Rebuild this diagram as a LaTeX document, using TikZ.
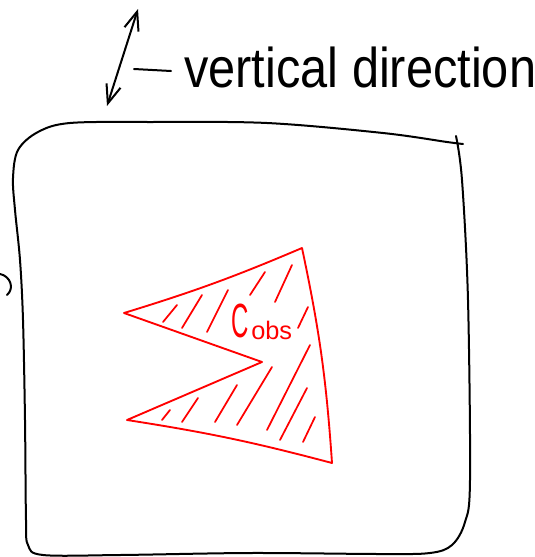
\documentclass[tikz,border=0pt]{standalone}
\usepackage{fontspec}
\setmainfont{Liberation Sans}
\usetikzlibrary{arrows.meta}
\tikzset{
  ink/.style={line width=1.5pt, line cap=round, line join=round, black},
  redink/.style={line width=1.4pt, line cap=round, line join=round, red},
  hatch/.style={line width=1.3pt, line cap=round, red},
}
\begin{document}
\begin{tikzpicture}[x=0.75pt, y=-0.75pt]
\useasboundingbox (0,0) rectangle (535,557);
% arrow
\coordinate (abot) at (107,106);
\coordinate (atop) at (138,9);
\draw[ink, {Straight Barb[length=14pt,width=11pt]}-{Straight Barb[length=14pt,width=11pt]}] (abot) -- (atop);
% dash and label
\coordinate (d1) at (134,69);
\coordinate (d2) at (171,71);
\draw[ink] (d1) -- (d2);
\node[anchor=base west, inner sep=0pt, font=\fontsize{42}{42}\selectfont] (lbl) at (184,87) {\scalebox{0.87}[1]{vertical direction}};
% box
\draw[ink] plot[smooth, tension=0.55] coordinates {
 (463,144) (447,142) (383,133) (267,123) (150,122) (70,123) (38,132) (18,150) (13,178)
 (15,210) (20,260) (23,320) (25,420) (26,520) (28,545) (43,555) (120,555) (250,553)
 (380,554) (430,553) (452,545) (465,522) (470,480) (468,300) (462,180) (456,136)};
% small arc at left
\draw[ink] (0,274) .. controls (10,276) and (15,288) .. (7,295);
% red region
\coordinate (T) at (302,248);
\coordinate (L1) at (124,313);
\coordinate (N) at (262,362);
\coordinate (L2) at (127,420);
\coordinate (B) at (332,463);
\draw[redink] (T) to[bend left=3] (L1) -- (N) -- (L2) to[bend left=3] (B) to[bend right=4] (T);
% hatching
\foreach \a/\b/\c/\d in {163/322/177/305, 182/328/202/295, 207/332/228/290, 250/295/265/272,
  275/302/292/265, 298/328/308/307, 162/420/170/410, 182/422/198/398, 215/422/237/385,
  237/425/272/367, 267/430/310/345, 280/440/307/388, 303/442/315/417}
  \draw[hatch] (\a,\b) -- (\c,\d);
% label C_obs
\node[anchor=base west, inner sep=0pt, red, font=\fontsize{36}{36}\selectfont] (cl) at (231,337) {\scalebox{0.5}[1]{C}};
\node[anchor=base west, inner sep=0pt, red, font=\fontsize{19}{19}\selectfont] (ol) at (251,339) {obs};
\end{tikzpicture}
\end{document}
